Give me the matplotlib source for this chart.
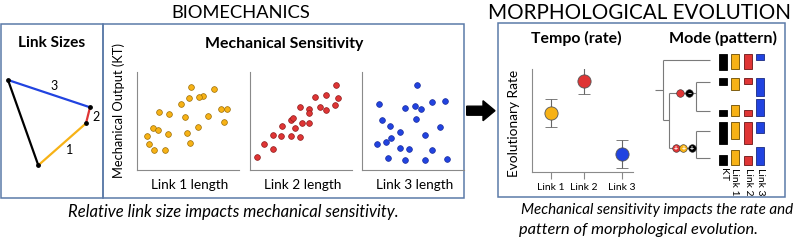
import numpy as np
import matplotlib.pyplot as plt
from matplotlib.patches import Rectangle

plt.rcParams['font.family'] = ['Lato', 'DejaVu Sans']

# --- data ---
# four-bar linkage joints (px in the "Link Sizes" box)
joint_x = [8, 90, 86, 38.3]
joint_y = [80, 107.3, 123.3, 165.3]

# mechanical sensitivity scatter (arbitrary units, 0-100)
link1_x = [53.7, 76.7, 65.7, 62.3, 51.7, 44.3, 84.0, 89.7, 22.3, 32.3, 47.7, 71.0,
           87.3, 16.0, 21.3, 61.0, 9.7, 31.0, 50.3, 12.3, 52.7, 17.0, 28.0]
link1_y = [82.7, 80.7, 74.3, 72.7, 71.7, 66.0, 60.7, 60.7, 58.0, 56.0, 52.7, 54.3,
           48.0, 42.0, 40.0, 43.3, 34.3, 36.0, 36.7, 25.7, 27.3, 20.0, 20.3]
link2_x = [86.3, 76.0, 87.7, 65.0, 50.3, 59.3, 70.0, 76.0, 85.0, 59.0, 40.7, 43.3,
           51.7, 59.0, 45.3, 31.7, 23.0, 31.0, 41.0, 49.7, 14.0, 22.7, 7.0]
link2_y = [85.0, 74.7, 72.3, 73.3, 62.7, 61.3, 62.7, 59.7, 64.7, 57.3, 50.0, 51.7,
           47.0, 47.0, 42.3, 44.0, 35.0, 33.7, 33.7, 32.7, 25.7, 21.0, 12.7]
link3_x = [55.0, 17.3, 42.7, 53.0, 59.0, 69.7, 82.7, 20.3, 54.0, 28.3, 78.0, 38.3,
           62.7, 28.7, 23.7, 15.3, 38.0, 46.7, 69.7, 26.0, 43.3, 63.0, 84.7]
link3_y = [85.0, 66.0, 62.3, 64.0, 61.3, 68.0, 69.0, 50.0, 51.0, 44.3, 43.0, 38.0,
           34.7, 31.7, 28.0, 25.7, 22.0, 20.7, 20.0, 11.7, 10.0, 10.0, 11.3]

# tempo (rate)
links = ['Link 1', 'Link 2', 'Link 3']
link_pos = [1, 2, 3.15]
rate = [57.3, 88.3, 17.5]
rate_err = [13.3, 13.0, 13.3]

# mode (pattern): trait bar sizes for the 5 tips
traits = ['KT', 'Link 1', 'Link 2', 'Link 3']
kt_h = [16.7, 7.0, 6.0, 22.3, 9.3]
l1_h = [15.7, 12.7, 11.0, 17.3, 14.3]
l2_h = [15.7, 6.7, 6.0, 22.7, 8.7]
l3_h = [6.0, 18.3, 17.0, 11.0, 17.7]

ORANGE, RED, BLUE = '#F7B216', '#DF3535', '#2143E0'
BOX = '#5B7AA8'

W, H = 793, 240
fig = plt.figure(figsize=(W / 100, H / 100), dpi=100)
bg = fig.add_axes([0, 0, 1, 1])
bg.set_xlim(0, W)
bg.set_ylim(H, 0)
bg.axis('off')


def px_axes(x0, y0, x1, y1):
    ax = fig.add_axes([x0 / W, 1 - y1 / H, (x1 - x0) / W, (y1 - y0) / H])
    ax.patch.set_alpha(0)
    return ax


fitted = []   # (text, wanted length in px)


def label(x, y, s, length=None, **kw):
    t = bg.text(x, y, s, **kw)
    if length:
        fitted.append((t, length))
    return t


# boxes
for x0, y0, x1, y1 in [(1, 24, 103, 198), (103, 24, 464, 198), (498, 23, 785, 197)]:
    bg.add_patch(Rectangle((x0, y0), x1 - x0, y1 - y0, fill=False, ec=BOX, lw=1.1))

# titles
label(241, 13, 'BIOMECHANICS', 140, ha='center', va='center', fontsize=15)
label(640, 13, 'MORPHOLOGICAL EVOLUTION', 303, ha='center', va='center', fontsize=15)
label(52, 43, 'Link Sizes', 67, ha='center', va='center', fontsize=11, fontweight='bold')
label(284, 44, 'Mechanical Sensitivity', 158, ha='center', va='center', fontsize=11,
      fontweight='bold')
label(576, 38, 'Tempo (rate)', 90, ha='center', va='center', fontsize=11, fontweight='bold')
label(723, 38, 'Mode (pattern)', 108, ha='center', va='center', fontsize=11,
      fontweight='bold')

# captions
label(233, 212, 'Relative link size impacts mechanical sensitivity.', 330, ha='center',
      va='center', fontsize=11, style='italic')
label(521, 210, 'Mechanical sensitivity impacts the rate and', 271, ha='left',
      va='center', fontsize=11, style='italic')
label(519, 230, 'pattern of morphological evolution.', 238, ha='left',
      va='center', fontsize=11, style='italic')

# linkage
colors = [BLUE, RED, ORANGE, 'black']
labels = ['3', '2', '1']
lab_pos = [(54, 86), (96, 117), (70, 150)]
for i in range(4):
    j = (i + 1) % 4
    bg.plot([joint_x[i], joint_x[j]], [joint_y[i], joint_y[j]], color=colors[i], lw=1.6,
            solid_capstyle='round')
for i in range(3):
    bg.text(*lab_pos[i], labels[i], ha='center', va='center', fontsize=9)
bg.scatter(joint_x, joint_y, s=6, color='black', zorder=3)

# big arrow
bg.arrow(466.7, 110.7, 28.3, 0, width=9, head_width=20, head_length=12,
         length_includes_head=True, color='black')

# scatter panels
label(119, 110.5, 'Mechanical Output (KT)', 135, rotation=90, ha='center', va='center',
      fontsize=9)
panels = [(137, link1_x, link1_y, ORANGE, '#9C6E06', 'Link 1 length'),
          (250, link2_x, link2_y, RED, '#8E1C1C', 'Link 2 length'),
          (362, link3_x, link3_y, BLUE, '#1A2C9E', 'Link 3 length')]
for left, xs, ys, c, ec, lab in panels:
    ax = px_axes(left, 72, left + 102, 170)
    ax.scatter(xs, ys, s=17, color=c, edgecolor=ec, linewidth=0.5, zorder=3)
    ax.set_xlim(0, 102)
    ax.set_ylim(0, 98)
    ax.set_xticks([])
    ax.set_yticks([])
    for s in ['top', 'right']:
        ax.spines[s].set_visible(False)
    for s in ['left', 'bottom']:
        ax.spines[s].set_color('#8a8a8a')
        ax.spines[s].set_linewidth(0.8)
    label(left + 53, 185, lab, 78, ha='center', va='center', fontsize=9.5)

# tempo panel
ax = px_axes(532, 69, 633, 172)
tcols = [ORANGE, RED, BLUE]
for i in range(3):
    ax.errorbar(link_pos[i], rate[i], yerr=rate_err[i], fmt='o', ms=9.5,
                mfc=tcols[i], mec='#555555', mew=0.6, ecolor='#666666',
                elinewidth=0.8, capsize=4.5, capthick=0.8)
ax.set_xlim(0.42, 3.48)
ax.set_ylim(0, 100)
ax.set_yticks([])
ax.set_xticks(link_pos)
ax.set_xticklabels(links, fontsize=7.5)
ax.tick_params(axis='x', length=5, color='#888888', width=0.8, pad=3)
for s in ['top', 'right']:
    ax.spines[s].set_visible(False)
for s in ['left', 'bottom']:
    ax.spines[s].set_color('#8a8a8a')
    ax.spines[s].set_linewidth(0.8)
label(514, 123.5, 'Evolutionary Rate', 107, rotation=90, ha='center', va='center',
      fontsize=10)

# tree
tip_y = [60, 82, 111, 131, 158]
tip_x = 710
root_x, inner_x, clade_x = 662.7, 668.5, 696
bc_y, de_y = 93.3, 148.3
tc = '#7a7a7a'
segs = [([655, root_x], [90, 90]), ([root_x, root_x], [tip_y[0], 120]),
        ([root_x, tip_x], [tip_y[0], tip_y[0]]), ([root_x, inner_x], [120, 120]),
        ([inner_x, inner_x], [bc_y, de_y]), ([inner_x, clade_x], [bc_y, bc_y]),
        ([inner_x, clade_x], [de_y, de_y]),
        ([clade_x, clade_x], [tip_y[1], tip_y[2]]), ([clade_x, clade_x], [tip_y[3], tip_y[4]])]
for k in range(1, 5):
    segs.append(([clade_x, tip_x], [tip_y[k], tip_y[k]]))
for xs, ys in segs:
    bg.plot(xs, ys, color=tc, lw=0.8, solid_capstyle='butt')

# shifts on branches
shifts = [(680, bc_y, RED, ''), (689, bc_y, 'black', '\u2212'),
          (675.7, de_y, RED, '+'), (683.3, de_y, ORANGE, '+'), (691.7, de_y, 'black', '+')]
for x, y, c, sym in shifts:
    bg.scatter([x], [y], s=30, color=c, edgecolor='#333333', linewidth=0.4, zorder=4)
    if sym:
        bg.text(x, y, sym, ha='center', va='center', fontsize=5, color='white',
                fontweight='bold', zorder=5)

# trait bars
anchors = [('top', 53.5), ('top', 77.5), ('bottom', 116), ('top', 121.5), ('bottom', 164.5)]
cols_x = [723, 735, 748, 760]
bar_c = ['black', ORANGE, RED, BLUE]
bar_ec = ['black', '#6b4b00', '#6b1414', '#1a2a80']
for j, hs in enumerate([kt_h, l1_h, l2_h, l3_h]):
    bottoms = [a if kind == 'top' else a - h for (kind, a), h in zip(anchors, hs)]
    bg.bar([cols_x[j]] * 5, hs, bottom=bottoms, width=7.5, color=bar_c[j],
           edgecolor=bar_ec[j], linewidth=0.6)
    bg.text(cols_x[j], 168, traits[j], rotation=-90, ha='center', va='top', fontsize=7.5)

# scale the long texts so they span the same length as in the source figure
fig.canvas.draw()
r = fig.canvas.get_renderer()
for t, length in fitted:
    bb = t.get_window_extent(renderer=r)
    t.set_fontsize(t.get_fontsize() * length / max(bb.width, bb.height))

fig.savefig('out.png', dpi=100)
